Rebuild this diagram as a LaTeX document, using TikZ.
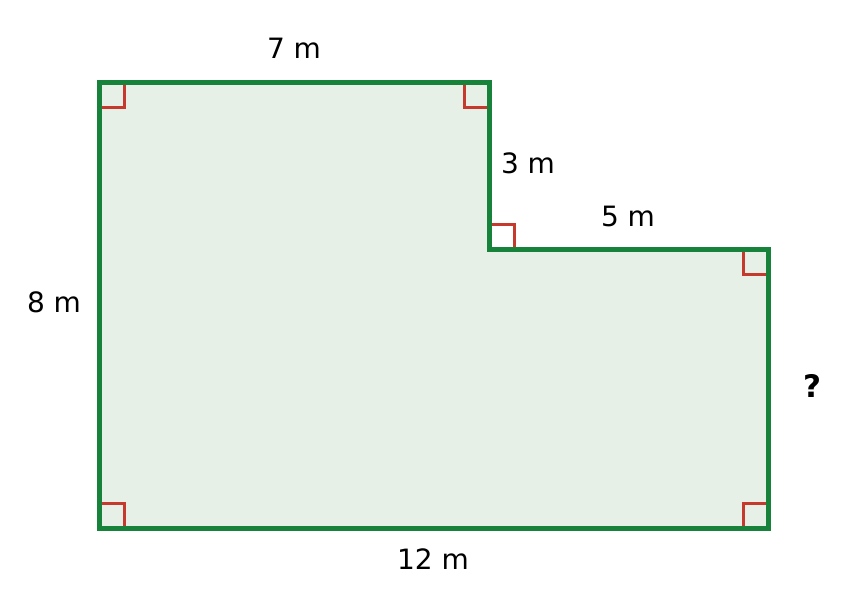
\documentclass[tikz,border=0pt]{standalone}
\usepackage{fontspec}
\setmainfont{DejaVu Sans}
\usetikzlibrary{calc}
\definecolor{edgegreen}{HTML}{17833A}
\definecolor{fillgreen}{HTML}{E6F0E6}
\definecolor{markred}{HTML}{C53A2C}
\begin{document}
\begin{tikzpicture}[x=1pt,y=-1pt,
  lbl/.style={inner sep=0pt,font=\fontsize{28}{32}\selectfont},
  shapeline/.style={draw=edgegreen,line width=5pt,fill=fillgreen,line join=miter},
  rmark/.style={draw=markred,line width=3pt}]
\useasboundingbox (0,0) rectangle (867,610);
\coordinate (A) at (99,82);
\coordinate (B) at (489,82);
\coordinate (C) at (489,249);
\coordinate (D) at (768,249);
\coordinate (E) at (768,528);
\coordinate (F) at (99,528);
\path[shapeline] (A) -- (B) -- (C) -- (D) -- (E) -- (F) -- cycle;
% right angle markers
\draw[rmark] ($(A)+(0,25)$) -- ++(25,0) -- ++(0,-25);
\draw[rmark] ($(B)+(-25,0)$) -- ++(0,25) -- ++(25,0);
\draw[rmark] ($(C)+(0,-25)$) -- ++(25,0) -- ++(0,25);
\draw[rmark] ($(D)+(-25,0)$) -- ++(0,25) -- ++(25,0);
\draw[rmark] ($(E)+(-25,0)$) -- ++(0,-25) -- ++(25,0);
\draw[rmark] ($(F)+(0,-25)$) -- ++(25,0) -- ++(0,25);
% redraw outline on top
\path[draw=edgegreen,line width=5pt] (A) -- (B) -- (C) -- (D) -- (E) -- (F) -- cycle;
% labels
\node[lbl] (l7) at (294,48) {7 m};
\node[lbl] (l3) at (528,163) {3 m};
\node[lbl] (l5) at (628,216) {5 m};
\node[lbl] (l8) at (54,302) {8 m};
\node[lbl,font=\fontsize{31}{36}\selectfont\bfseries] (lq) at (812,386) {?};
\node[lbl] (l12) at (433,559) {12 m};
\end{tikzpicture}
\end{document}
